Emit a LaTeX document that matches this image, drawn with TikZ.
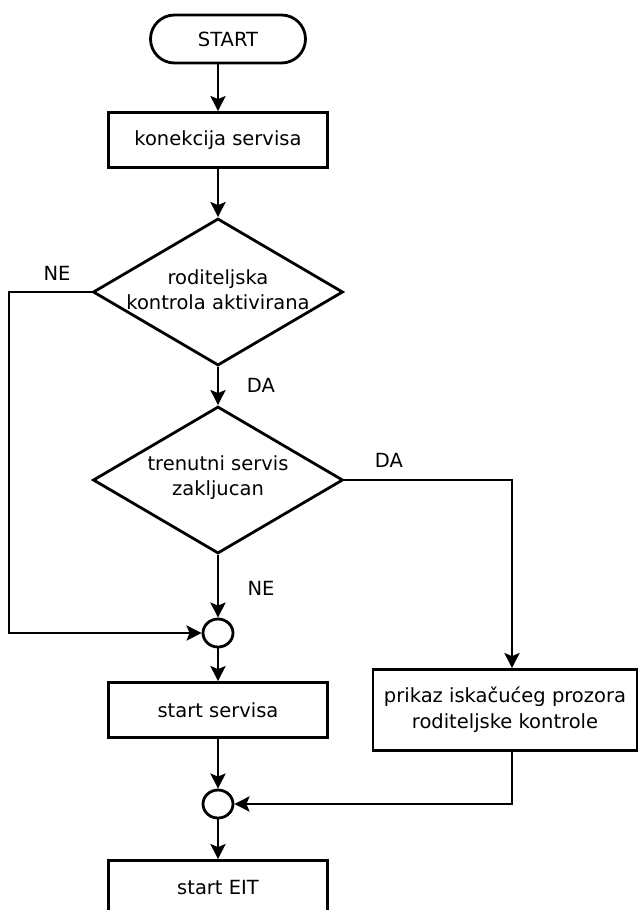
\documentclass[tikz,border=0pt]{standalone}
\usepackage{fontspec}
\setmainfont{DejaVu Sans}
\usetikzlibrary{shapes.geometric,shapes.misc,arrows.meta}

\begin{document}
\begin{tikzpicture}[
    x=1pt, y=-1pt,
    term/.style={rounded rectangle, draw, line width=2.8pt, minimum width=155pt, minimum height=48pt, inner sep=0pt, font=\fontsize{19.5pt}{26pt}\selectfont},
    proc/.style={rectangle, draw, line width=2.8pt, minimum width=219pt, minimum height=55pt, inner sep=0pt, align=center, font=\fontsize{19.5pt}{26pt}\selectfont},
    decision/.style={diamond, draw, line width=2.8pt, minimum width=250pt, minimum height=147pt, inner sep=0pt},
    txt/.style={align=center, inner sep=0pt, font=\fontsize{19.5pt}{25pt}\selectfont},
    merge/.style={ellipse, draw, line width=2.8pt, minimum width=30pt, minimum height=28pt, inner sep=0pt},
    arrow/.style={->,>={Stealth[length=15pt,width=15pt,inset=3pt]},line width=2.8pt}
]
\useasboundingbox (0,0) rectangle (639,910);

% Main column
\node[term] (start) at (228,39) {START};
\node[proc] (konekcija) at (218,140) {konekcija servisa};
\node[decision] (kontrola) at (218,292) {};
\node[txt] (kontrolatxt) at (218,290) {roditeljska\\kontrola aktivirana};
\node[decision] (zakljucan) at (218,480) {};
\node[txt] (zakljucantxt) at (218,478) {trenutni servis\\zakljucan};
\node[merge] (merge1) at (218,633) {};
\node[proc] (startservisa) at (218,710) {start servisa};
\node[merge] (merge2) at (218,804) {};
\node[proc] (starteit) at (218,888) {start EIT};

% Right branch
\node[proc, minimum width=264pt, minimum height=81pt] (prikaz) at (505,710) {prikaz iskačućeg prozora\\roditeljske kontrole};

% Corners
\coordinate (lcorner) at (9,292);
\coordinate (rcorner) at (512,480);

% Arrows - main column
\draw[arrow] (start.south -| konekcija.north) -- (konekcija.north);
\draw[arrow] (konekcija) -- (kontrola);
\draw[arrow] (kontrola) -- (zakljucan);
\draw[arrow] (zakljucan) -- (merge1);
\draw[arrow] (merge1) -- (startservisa);
\draw[arrow] (startservisa) -- (merge2);
\draw[arrow] (merge2) -- (starteit);

% Arrows - side branches
\draw[arrow] (kontrola.west) -- (lcorner) |- (merge1.west);
\draw[arrow] (zakljucan.east) -- (rcorner) -- (rcorner |- prikaz.north);
\draw[arrow] (rcorner |- prikaz.south) |- (merge2.east);

% Branch labels
\node[txt] (ne1) at (57,273) {NE};
\node[txt] (da1) at (261,385) {DA};
\node[txt] (da2) at (389,460) {DA};
\node[txt] (ne2) at (261,588) {NE};

\end{tikzpicture}
\end{document}
